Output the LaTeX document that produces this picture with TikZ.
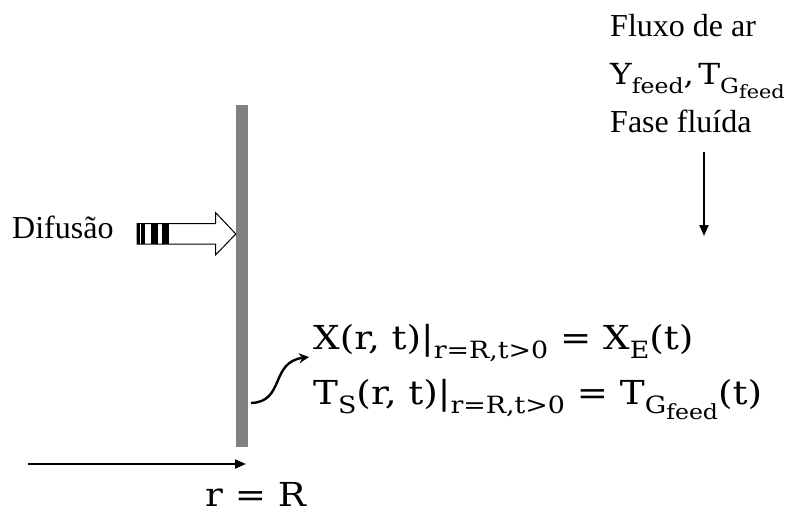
\documentclass[tikz,border=0pt]{standalone}
\usepackage{fontspec}
\setmainfont{Liberation Serif}
\newfontfamily\eqfont[FakeStretch=1.13]{DejaVu Serif}
\usetikzlibrary{arrows.meta,positioning}
\definecolor{WallGray}{HTML}{808080}
\newcommand{\lo}[1]{\raisebox{-.3em}{\scalebox{.72}{#1}}}
\newcommand{\llo}[1]{\raisebox{-.25em}{\scalebox{.88}{#1}}}
\tikzset{
  wall/.style={fill=WallGray,draw=none,minimum width=12pt,minimum height=342pt,inner sep=0pt},
  txt/.style={font=\fontsize{32}{38}\selectfont,inner sep=0pt,anchor=base west},
  eqn/.style={font=\eqfont\fontsize{33}{38}\selectfont,inner sep=0pt,anchor=base west},
  flow/.style={-{Triangle[length=11pt,width=9pt]},line width=2pt},
  curlarrow/.style={-{Stealth[length=10pt,width=10pt]},line width=2.4pt},
  hollow/.style={draw=black,fill=white,line width=1pt},
  stripe/.style={fill=black}
}

\begin{document}
\begin{tikzpicture}[x=1pt,y=-1pt]
  \useasboundingbox (0,0) rectangle (805,516);
  % wall
  \node[wall] (wall) at (242,276) {};
  % diffusion block arrow
  \node[txt] (dif) at (12,238) {Difusão};
  \draw[hollow] (137,223.5) -- (215.5,223.5) -- (215.5,212.5) -- (wall.west |- 0,234)
    -- (215.5,255) -- (215.5,244) -- (137,244) -- cycle;
  \foreach \a/\b in {137/139.5,141/144.5,150.5/157.5,161.5/168.5}
    \fill[stripe] (\a,223.5) rectangle (\b,244);
  % air flow
  \node[txt] (flux) at (610,37) {Fluxo de ar};
  \node[eqn,font=\eqfont\fontsize{29}{34}\selectfont] (feed) at (610,85)
    {Y\lo{feed},\hspace{.15em}T\lo{G\llo{feed}}};
  \node[txt] (fase) at (610,132) {Fase fluída};
  \coordinate (flowtop) at (704,152);
  \coordinate (flowend) at (704,236);
  \draw[flow] (flowtop) -- (flowend);
  % boundary conditions
  \node[eqn] (bcx) at (313,349) {X(r, t)|\lo{r=R,t>0} = X\lo{E}(t)};
  \node[eqn] (bct) at (313,404) {T\lo{S}(r, t)|\lo{r=R,t>0} = T\lo{G\llo{feed}}(t)};
  \coordinate (foot) at (251,403);
  \coordinate (tip) at (309,357);
  \draw[curlarrow] (foot) .. controls (285,402) and (270,362) .. (tip);
  % radius axis
  \coordinate (axis0) at (28,464);
  \coordinate (axis1) at (246,464);
  \draw[flow] (axis0) -- (axis1);
  \node[eqn,text depth=0pt] (rR) at (205,506) {r = R};
\end{tikzpicture}
\end{document}
